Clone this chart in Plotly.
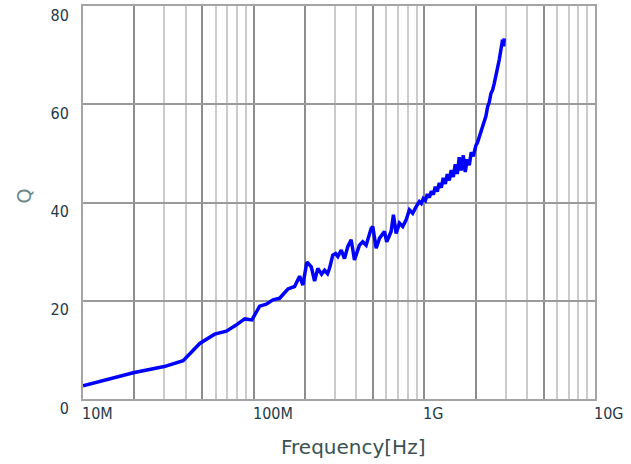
import math
import plotly.graph_objects as go

# Frequency in MHz, Q values
freq_mhz = [10.0, 14.0, 19.7, 29.9, 38.6, 43.4, 48.3, 59.1, 69.2, 78.5, 88.6, 97.7,
            108.4, 118.7, 129.7, 141.9, 158.8, 173.7, 185.8, 194.2, 205, 217.5, 227.5,
            237.7, 250, 260.2, 271, 278.2, 290.8, 302, 311.3, 326, 340.6, 356, 372.7,
            389.6, 416.6, 435.7, 456, 487.9, 498.6, 522, 545.8, 583.6, 602, 639, 659,
            683.6, 714.5, 747, 781.6, 817, 855, 894, 935, 960, 986, 1014, 1042, 1070,
            1099, 1129, 1159, 1191, 1224, 1257, 1291, 1327, 1363, 1400, 1438, 1478,
            1518, 1560, 1602, 1646, 1691, 1737, 1784, 1833, 1883, 1934, 2004, 2049,
            2097, 2168, 2243, 2296, 2349, 2401, 2456, 2512, 2567, 2626, 2686, 2746,
            2807, 2872, 2917, 2937]
q_values = [2.7, 4.0, 5.35, 6.6, 7.8, 9.6, 11.3, 13.2, 13.8, 15.0, 16.3, 16.1,
            18.9, 19.3, 20.2, 20.5, 22.4, 22.9, 25.0, 23.2, 27.9, 26.9, 24.0,
            26.6, 25.4, 26.2, 25.5, 26.6, 29.3, 29.6, 29.0, 30.3, 28.6, 31.0, 32.4,
            28.3, 31.3, 32.0, 31.3, 34.7, 35.1, 30.7, 32.7, 34.1, 32.0, 34.1, 37.5,
            33.7, 35.8, 35.1, 36.4, 38.5, 37.8, 39.1, 40.2, 39.8, 40.8, 40.4, 41.7, 41.0,
            42.3, 41.6, 43.2, 42.2, 44.0, 43.0, 45.0, 43.8, 45.8, 44.5, 46.6, 45.2,
            47.8, 45.8, 49.2, 46.5, 49.6, 46.2, 48.8, 47.6, 50.2, 49.4, 51.6, 52.2,
            53.4, 54.6, 56.8, 57.6, 59.5, 60.4, 62.2, 62.9, 64.2, 65.6, 67.0, 69.0,
            71.0, 73.1, 71.8, 73.4]

x_tick_values = [1e7, 1e8, 1e9, 1e10]
x_tick_labels = ["10M", "100M", "1G", "10G"]
y_tick_values = [0, 20, 40, 60, 80]

freq_hz = [f * 1e6 for f in freq_mhz]

fig = go.Figure()
fig.add_trace(go.Scatter(x=freq_hz, y=q_values, mode="lines",
                         line=dict(color="#0000ff", width=3.5), showlegend=False))

tick_font = dict(family="Liberation Sans Narrow, DejaVu Sans Condensed, sans-serif",
                 size=16, color="#1f3a48")

fig.update_xaxes(type="log", range=[7, 10], showticklabels=False, ticks="",
                 showgrid=True, gridcolor="#8e8e8e", gridwidth=1.5,
                 minor=dict(dtick="D1", showgrid=True, gridcolor="#cbcbcb", gridwidth=1.5, ticks=""),
                 showline=True, mirror=True, linecolor="#a4a4a4", linewidth=2,
                 zeroline=False, automargin=False)
fig.update_yaxes(range=[0, 80], tickvals=y_tick_values, ticks="",
                 showgrid=True, gridcolor="#9a9a9a", gridwidth=1.5,
                 showline=True, mirror=True, linecolor="#a4a4a4", linewidth=2,
                 zeroline=False, tickfont=tick_font, ticklabeloverflow="allow",
                 ticklabelshift=9, ticklabelstandoff=9, automargin=False)

for v, lab in zip(x_tick_values, x_tick_labels):
    fig.add_annotation(x=math.log10(v), y=0, xref="x", yref="paper", text=lab,
                       showarrow=False, xanchor="left", yanchor="top", yshift=-3,
                       xshift=-3, font=tick_font)

fig.add_annotation(x=0.5, y=0, xref="paper", yref="paper", text="Frequency[Hz]",
                   showarrow=False, xanchor="center", yanchor="top", yshift=-34, xshift=14,
                   font=dict(family="DejaVu Sans, sans-serif", size=20, color="#3a5252"))
fig.add_annotation(x=0, y=0.5, xref="paper", yref="paper", text="Q", textangle=-90,
                   showarrow=False, xanchor="center", yanchor="middle", xshift=-60, yshift=6,
                   font=dict(family="DejaVu Sans, sans-serif", size=19, color="#6a8888"))

fig.update_layout(width=631, height=464, margin=dict(l=83, r=36, t=6, b=65, autoexpand=False),
                  plot_bgcolor="white", paper_bgcolor="white")

fig.write_html("out.html", config={"displayModeBar": False},
               post_script="document.body.style.margin='0px';")
